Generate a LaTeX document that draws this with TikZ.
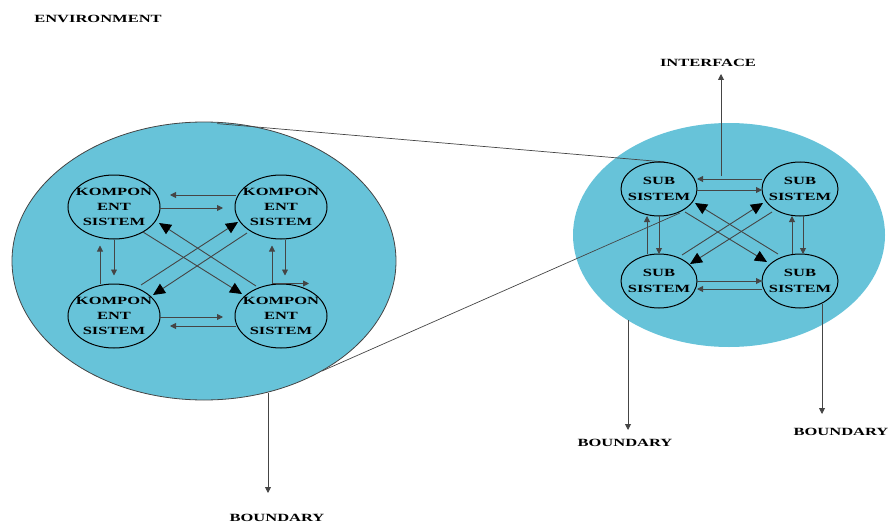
\documentclass[tikz,border=0pt]{standalone}
\usepackage{fontspec}
\setmainfont{Liberation Serif}
\newfontfamily\widefont[FakeStretch=1.5]{Liberation Serif}
\usetikzlibrary{shapes.geometric,arrows.meta,calc}
\definecolor{cyanfill}{HTML}{67C3D9}
\definecolor{arrowgray}{HTML}{454545}
\tikzset{
  bigell/.style={ellipse, fill=cyanfill, inner sep=0pt},
  comp/.style={ellipse, draw=black, line width=1pt, minimum width=92pt, minimum height=64pt, inner sep=-22pt, align=center, font=\widefont\fontsize{11}{15}\selectfont\bfseries},
  subs/.style={ellipse, draw=black, line width=1pt, minimum width=76pt, minimum height=54pt, inner sep=-22pt, align=center, font=\widefont\fontsize{11}{15.5}\selectfont\bfseries},
  arr/.style={draw=arrowgray, line width=0.9pt, -{Triangle[length=6pt,width=6pt]}},
  darr/.style={draw=arrowgray, line width=0.9pt, -{Triangle[length=12pt,width=11pt,color=black]}},
  zline/.style={draw=arrowgray, line width=0.7pt},
  lbl/.style={font=\widefont\fontsize{11}{13}\selectfont\bfseries, inner sep=0pt},
}
\begin{document}
\begin{tikzpicture}[x=1pt,y=-1pt]
\useasboundingbox (0,0) rectangle (891,524);
% big ellipses
\node[bigell, draw=arrowgray, line width=0.8pt, minimum width=384pt, minimum height=278pt] (L) at (204,261) {};
\node[bigell, minimum width=312pt, minimum height=224pt] (R) at (729,235) {};
% zoom lines
\draw[zline] ($(L.north)+(13,2)$) -- ($(R.center)+(-64,-73)$);
\node[subs] (r1) at (659,189) {SUB\\SISTEM};
\draw[zline] ($(L.center)+(118,110)$) -- ($(r1.center)+(21,24)$);
% left small ellipses
\node[comp] (l1) at (114,207) {KOMPON\\ENT\\SISTEM};
\node[comp] (l2) at (281,207) {KOMPON\\ENT\\SISTEM};
\node[comp] (l3) at (114,316) {KOMPON\\ENT\\SISTEM};
\node[comp] (l4) at (281,316) {KOMPON\\ENT\\SISTEM};
% left arrows
\draw[arr] ($(l2.center)+(-45,-12)$) -- ($(l1.center)+(56,-12)$);
\draw[arr] ($(l1.center)+(45,1)$) -- ($(l2.center)+(-58,1)$);
\draw[arr] ($(l3.center)+(45,1)$) -- ($(l4.center)+(-58,1)$);
\draw[arr] ($(l4.center)+(-45,10)$) -- ($(l3.center)+(56,10)$);
\draw[arr] ($(l3.north)+(-14,0)$) -- ($(l1.south)+(-14,6)$);
\draw[arr] (l1.south) -- ($(l3.north)+(0,-8)$);
\draw[arr] ($(l4.north)+(-9,0)$) -- ($(l2.south)+(-9,6)$);
\draw[arr] ($(l2.south)+(4,0)$) -- ($(l4.north)+(4,-8)$);
\draw[arr] ($(l4.north)+(-9,0)$) -- ($(l4.north)+(28,0)$);
\draw[darr] ($(l1.center)+(29,25)$) -- ($(l4.center)+(-39,-22)$);
\draw[darr] ($(l4.center)+(-25,-30)$) -- ($(l1.center)+(45,16)$);
\draw[darr] ($(l2.center)+(-34,26)$) -- ($(l3.center)+(39,-21)$);
\draw[darr] ($(l3.center)+(27,-31)$) -- ($(l2.center)+(-43,15)$);
% right small ellipses
\node[subs] (r2) at (800,189) {SUB\\SISTEM};
\node[subs] (r3) at (659,281) {SUB\\SISTEM};
\node[subs] (r4) at (800,281) {SUB\\SISTEM};
% right arrows
\draw[arr] ($(r2.center)+(-38,-10)$) -- ($(r1.center)+(38,-10)$);
\draw[arr] ($(r1.center)+(38,1)$) -- ($(r2.center)+(-38,1)$);
\draw[arr] ($(r3.center)+(38,0)$) -- ($(r4.center)+(-38,0)$);
\draw[arr] ($(r4.center)+(-38,8)$) -- ($(r3.center)+(38,8)$);
\draw[arr] ($(r3.center)+(-12,-27)$) -- ($(r1.center)+(-12,27)$);
\draw[arr] ($(r1.center)+(0,27)$) -- ($(r3.center)+(0,-27)$);
\draw[arr] ($(r4.center)+(-8,-27)$) -- ($(r2.center)+(-8,27)$);
\draw[arr] ($(r2.center)+(3,27)$) -- ($(r4.center)+(3,-27)$);
\draw[darr] ($(r1.center)+(26,23)$) -- ($(r4.center)+(-33,-19)$);
\draw[darr] ($(r4.center)+(-22,-27)$) -- ($(r1.center)+(36,14)$);
\draw[darr] ($(r2.center)+(-28,23)$) -- ($(r3.center)+(31,-17)$);
\draw[darr] ($(r3.center)+(23,-26)$) -- ($(r2.center)+(-37,14)$);
% labels
\node[lbl] (env) at (98,19) {ENVIRONMENT};
\node[lbl] (iface) at (708,63) {INTERFACE};
\node[lbl] (b1) at (277,518) {BOUNDARY};
\node[lbl] (b2) at (625,443) {BOUNDARY};
\node[lbl] (b3) at (841,432) {BOUNDARY};
% interface and boundary connectors
\coordinate (ibase) at (721,176);
\coordinate (itip) at (721,74);
\draw[arr] (ibase) -- (itip);
\coordinate (lb0) at (268,393);
\coordinate (lb1) at (268,493);
\draw[arr] (lb0) -- (lb1);
\coordinate (rb0) at (628,320);
\coordinate (rb1) at (628,430);
\draw[arr] (rb0) -- (rb1);
\coordinate (sb0) at (822,304);
\coordinate (sb1) at (822,414);
\draw[arr] (sb0) -- (sb1);
\end{tikzpicture}
\end{document}
